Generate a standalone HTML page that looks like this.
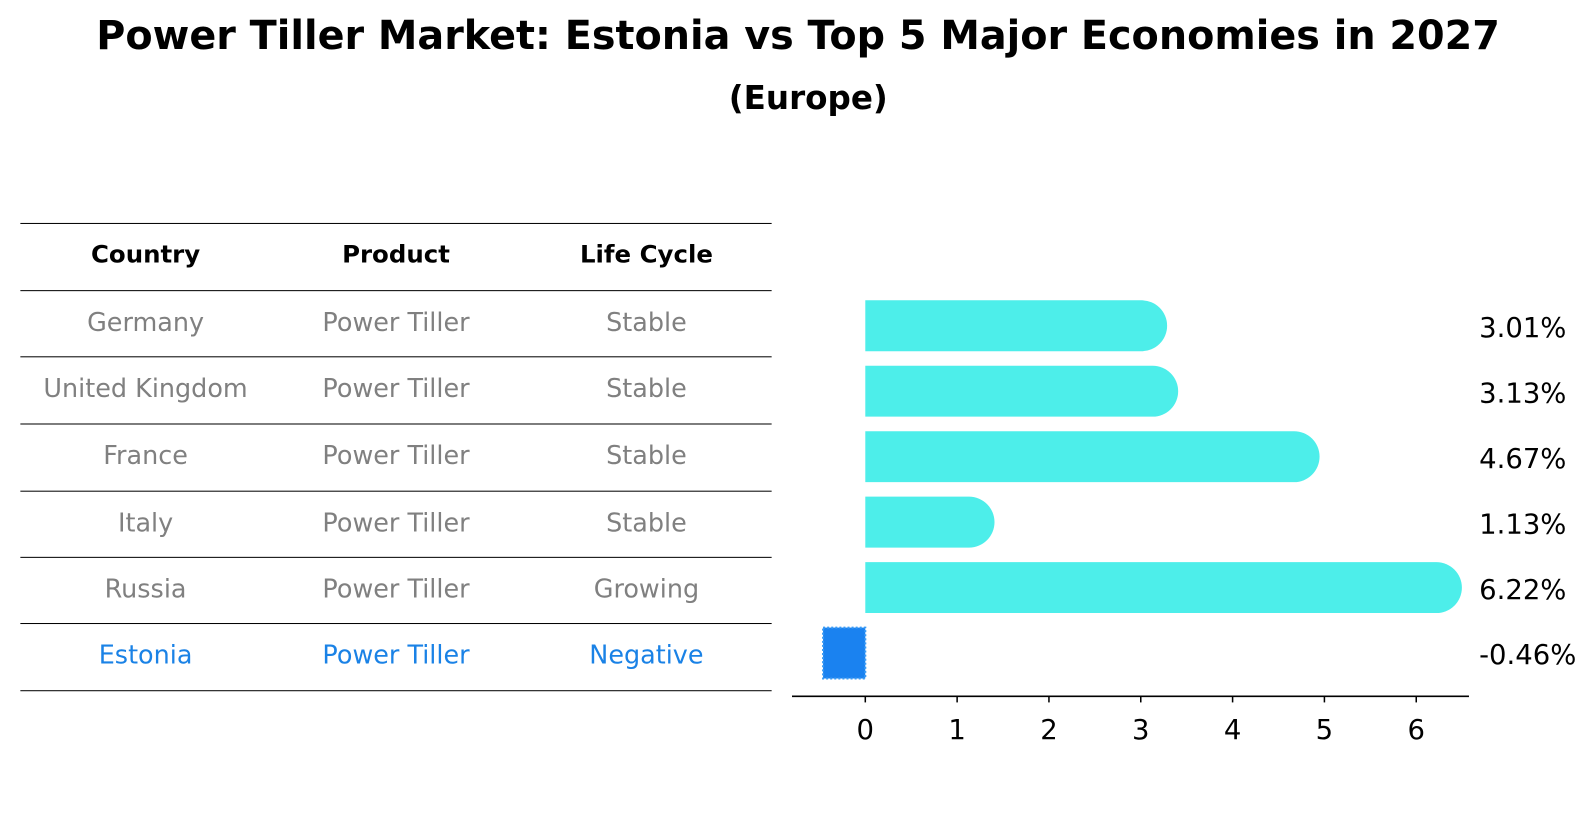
<!DOCTYPE html>
<html><head><meta charset="utf-8"><style>
body{margin:0;background:#fff;font-family:"Liberation Sans","DejaVu Sans",sans-serif;}
#root{position:relative;width:1596px;height:823px;overflow:hidden;}
#inner{position:absolute;left:0;top:0;width:1568px;height:809px;transform:scale(1.018);transform-origin:0 0;}
.t{position:absolute;white-space:nowrap;line-height:1;}
.line{position:absolute;left:20px;width:738px;height:1px;background:#000;}
.cell{position:absolute;width:246px;text-align:center;font-size:25px;line-height:1;color:#808080;font-family:"DejaVu Sans","Liberation Sans",sans-serif;white-space:nowrap;}
.hd{font-weight:bold;color:#000;font-size:24px;}
</style></head><body>
<div id="root">
<div id="inner">
<div class="t" style="left:0;width:1568px;text-align:center;top:16px;font-size:39px;font-weight:bold;font-family:'DejaVu Sans','Liberation Sans',sans-serif;">Power Tiller Market: Estonia vs Top 5 Major Economies in 2027</div>
<div class="t" style="left:0;width:1588px;text-align:center;top:80px;font-size:32px;font-weight:bold;font-family:'DejaVu Sans','Liberation Sans',sans-serif;">(Europe)</div>
<div id="table"></div>
<svg id="chart" width="1568" height="809" style="position:absolute;left:0;top:0;"></svg>
</div>
</div>
<script>
const countries=["Germany","United Kingdom","France","Italy","Russia","Estonia"];
const products=["Power Tiller","Power Tiller","Power Tiller","Power Tiller","Power Tiller","Power Tiller"];
const lifeCycles=["Stable","Stable","Stable","Stable","Growing","Negative"];
const values=[3.01,3.13,4.67,1.13,6.22,-0.46];
const ticks=[0,1,2,3,4,5,6];

const table=document.getElementById('table');
const lineYs=[219,285,350,416,482,547,612,678];
lineYs.forEach(y=>{const l=document.createElement('div');l.className='line';l.style.top=y+'px';


table.appendChild(l);});
const colX=[20,266,512];
function cell(txt,col,cy,cls,color,size){const d=document.createElement('div');d.className='cell '+(cls||'');
d.style.left=colX[col]+'px';d.style.top=(cy-size*0.55)+'px';d.textContent=txt;if(color)d.style.color=color;


table.appendChild(d);}
["Country","Product","Life Cycle"].forEach((h,i)=>cell(h,i,251,'hd',null,24));
countries.forEach((c,i)=>{const cy=(lineYs[i+1]+lineYs[i+2])/2;const col=i===countries.length-1?'#1a82e6':null;
cell(c,0,cy,'',col,25);cell(products[i],1,cy,'',col,25);cell(lifeCycles[i],2,cy,'',col,25);});

const svg=document.getElementById('chart');const NS='http://www.w3.org/2000/svg';
const x0=850,unit=90.2;const xs=v=>x0+v*unit;
const yc=i=>320+i*64.3;const bh=50;
function el(t,a){const e=document.createElementNS(NS,t);for(const k in a)e.setAttribute(k,a[k]);svg.appendChild(e);return e;}
values.forEach((v,i)=>{
 const y=yc(i)-bh/2;
 if(v>=0){
  const w=xs(v)-x0;
  const p=el('path',{d:`M${x0},${y} H${x0+w} A${bh/2},${bh/2} 0 0 1 ${x0+w},${y+bh} H${x0} Z`,fill:'#4deeea'});
  
  
 }else{
  const r=el('rect',{x:xs(v),y:y,width:x0-xs(v),height:bh,fill:'#1a82f0',stroke:'#3a9bf5','stroke-width':2,'stroke-dasharray':'2,2'});
  
  
 }
 const t=el('text',{x:1453,y:yc(i)+11,'font-size':27,'font-family':'DejaVu Sans, Liberation Sans, sans-serif',fill:'#000'});
 t.textContent=v.toFixed(2)+'%';
 
 
});
const ax=el('line',{x1:778,x2:1443,y1:684,y2:684,stroke:'#000','stroke-width':1.5});


ticks.forEach(tk=>{
 const tl=el('line',{x1:xs(tk),x2:xs(tk),y1:684,y2:690,stroke:'#000','stroke-width':1.5});
 
 
 const t=el('text',{x:xs(tk),y:726,'text-anchor':'middle','font-size':27,'font-family':'DejaVu Sans, Liberation Sans, sans-serif'});
 t.textContent=tk;
 
 
});
</script>
</body></html>
